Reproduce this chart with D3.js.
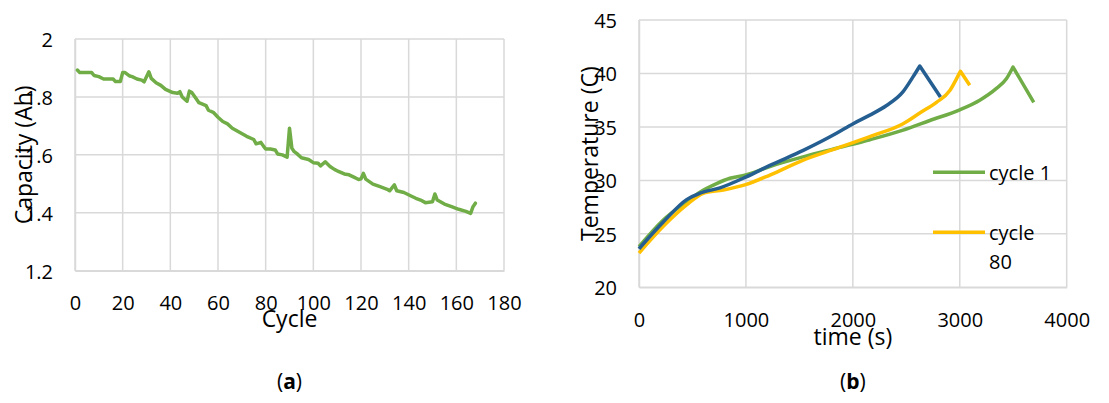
<!DOCTYPE html>
<html>
<head>
<meta charset="utf-8">
<script src="https://cdn.jsdelivr.net/npm/d3@7"></script>
<style>
  html, body { margin: 0; padding: 0; background: #fff; }
  svg { display: block; font-family: "Open Sans", sans-serif; }
</style>
</head>
<body>
<svg id="chart" width="1109" height="403"></svg>
<script>
// (a) capacity fade
const capCycles = [1,2,7,8,10,12,16,17,19,20,21,23,24,26,28,29,31,32,34,36,38,41,43,44,45,47,48,49,51,52,55,56,58,60,62,64,66,69,72,75,76,78,79,80,82,84,85,87,89,90,91,92,93,95,98,100,102,103,105,107,109,110,113,115,117,119,120,121,122,125,128,131,132,134,135,138,141,143,145,147,150,151,152,155,158,161,164,166,167,168];
const capValues = [1.893,1.884,1.884,1.874,1.870,1.862,1.862,1.853,1.853,1.884,1.884,1.872,1.870,1.862,1.858,1.852,1.887,1.864,1.849,1.840,1.826,1.815,1.813,1.818,1.800,1.785,1.820,1.815,1.792,1.780,1.770,1.754,1.747,1.730,1.715,1.707,1.692,1.678,1.664,1.653,1.638,1.643,1.631,1.620,1.620,1.617,1.603,1.600,1.592,1.692,1.623,1.611,1.605,1.590,1.584,1.573,1.571,1.562,1.576,1.560,1.549,1.545,1.534,1.531,1.523,1.515,1.517,1.536,1.516,1.499,1.490,1.481,1.476,1.496,1.476,1.470,1.458,1.450,1.444,1.435,1.438,1.465,1.444,1.430,1.421,1.412,1.405,1.398,1.421,1.433];

const capXTicks = [0,20,40,60,80,100,120,140,160,180];
const capYTicks = [1.2,1.4,1.6,1.8,2];

// (b) temperature during discharge
const c1Time = [0,227,445,570,726,850,997,1224,1536,1847,2159,2470,2720,3000,3187,3343,3436,3498,3692];
const c1Temp = [23.8,26.3,28.0,28.9,29.7,30.2,30.5,31.3,32.2,33.0,33.8,34.7,35.6,36.6,37.5,38.6,39.5,40.6,37.3];

const c80Time = [0,227,445,601,788,997,1224,1536,1847,2159,2470,2626,2782,2907,2969,3006,3093];
const c80Temp = [23.2,25.7,27.7,28.8,29.1,29.6,30.5,31.9,33.0,34.1,35.3,36.3,37.3,38.4,39.5,40.2,38.9];

const c3Time = [0,227,445,570,757,997,1224,1536,1847,2003,2159,2315,2470,2564,2626,2819];
const c3Temp = [23.6,26.1,28.2,28.8,29.3,30.3,31.4,32.8,34.4,35.3,36.1,37.0,38.3,39.7,40.7,37.8];

const tXTicks = [0,1000,2000,3000,4000];
const tYTicks = [20,25,30,35,40,45];

const GREEN = '#70AD47', YELLOW = '#FFC000', BLUE = '#255E91', GRID = '#d9d9d9';

const svg = d3.select('#chart');

function panel({x0, x1, y0, y1, xDomain, yDomain, xTicks, yTicks, xFmt, yFmt, xTitle, yTitle, yTitleX, xTitleY, xLabelY}){
  const x = d3.scaleLinear().domain(xDomain).range([x0, x1]);
  const y = d3.scaleLinear().domain(yDomain).range([y1, y0]);
  const g = svg.append('g');

  // gridlines
  g.append('g').selectAll('line').data(yTicks).join('line')
    .attr('x1', x0).attr('x2', x1)
    .attr('y1', d => y(d)).attr('y2', d => y(d))
    .attr('stroke', GRID).attr('stroke-width', 1.5);
  g.append('g').selectAll('line').data(xTicks).join('line')
    .attr('x1', d => x(d)).attr('x2', d => x(d))
    .attr('y1', y0).attr('y2', y1)
    .attr('stroke', GRID).attr('stroke-width', 1.5);

  // axes (labels only, lines drawn by grid)
  const ax = g.append('g').attr('transform', `translate(0,${y1})`)
    .call(d3.axisBottom(x).tickValues(xTicks).tickFormat(xFmt).tickSize(0).tickPadding(0));
  ax.select('.domain').attr('stroke', GRID).attr('stroke-width', 1.5);
  ax.selectAll('text').attr('font-size', 20).attr('fill', '#000')
    .attr('font-family', '"Open Sans", sans-serif')
    .attr('dy', null).attr('y', xLabelY).attr('dominant-baseline', 'central');

  const ay = g.append('g').attr('transform', `translate(${x0},0)`)
    .call(d3.axisLeft(y).tickValues(yTicks).tickFormat(yFmt).tickSize(0).tickPadding(22));
  ay.select('.domain').attr('stroke', GRID).attr('stroke-width', 1.5);
  ay.selectAll('text').attr('font-size', 20).attr('fill', '#000')
    .attr('font-family', '"Open Sans", sans-serif')
    .attr('dy', null).attr('dominant-baseline', 'central');

  // titles
  g.append('text').attr('x', (x0 + x1) / 2).attr('y', xTitleY)
    .attr('text-anchor', 'middle').attr('dominant-baseline', 'central')
    .attr('font-size', 23).text(xTitle);
  g.append('text')
    .attr('transform', `translate(${yTitleX},${(y0 + y1) / 2}) rotate(-90)`)
    .attr('text-anchor', 'middle').attr('dominant-baseline', 'central')
    .attr('font-size', 23).text(yTitle);

  return {x, y, g};
}

// ---- (a)
const A = panel({
  x0: 75, x1: 504, y0: 39, y1: 270.7,
  xDomain: [0, 180], yDomain: [1.2, 2],
  xTicks: capXTicks, yTicks: capYTicks,
  xFmt: d3.format('d'), yFmt: d => d === 2 ? '2' : d3.format('.1f')(d),
  xTitle: 'Cycle', yTitle: 'Capacity (Ah)', yTitleX: 23, xTitleY: 318, xLabelY: 32
});
const capData = capCycles.map((c, i) => [c, capValues[i]]);
A.g.append('path').datum(capData)
  .attr('fill', 'none').attr('stroke', GREEN).attr('stroke-width', 3.5)
  .attr('stroke-linejoin', 'round').attr('stroke-linecap', 'round')
  .attr('d', d3.line().x(d => A.x(d[0])).y(d => A.y(d[1])));

// ---- (b)
const B = panel({
  x0: 639, x1: 1066.7, y0: 20, y1: 287.3,
  xDomain: [0, 4000], yDomain: [20, 45],
  xTicks: tXTicks, yTicks: tYTicks,
  xFmt: d3.format('d'), yFmt: d3.format('d'),
  xTitle: 'time (s)', yTitle: 'Temperature (C)', yTitleX: 589, xTitleY: 336, xLabelY: 32
});
const smooth = d3.line().curve(d3.curveMonotoneX).x(d => B.x(d[0])).y(d => B.y(d[1]));
// smooth rise, sharp peak, straight fall after the peak
function tempPath(pts){
  const peak = d3.maxIndex(pts, d => d[1]);
  return smooth(pts.slice(0, peak + 1)) +
    pts.slice(peak + 1).map(d => `L${B.x(d[0])},${B.y(d[1])}`).join('');
}
const series = [
  {t: c1Time, v: c1Temp, color: GREEN},
  {t: c80Time, v: c80Temp, color: YELLOW},
  {t: c3Time, v: c3Temp, color: BLUE}
];
series.forEach(s => {
  B.g.append('path').datum(s.t.map((t, i) => [t, s.v[i]]))
    .attr('fill', 'none').attr('stroke', s.color).attr('stroke-width', 3.5)
    .attr('stroke-linejoin', 'round').attr('d', tempPath);
});

// legend
const legend = [
  {label: ['cycle 1'], color: GREEN, y: 172.3},
  {label: ['cycle', '80'], color: YELLOW, y: 232.3}
];
legend.forEach(l => {
  B.g.append('line').attr('x1', 933).attr('x2', 985).attr('y1', l.y).attr('y2', l.y)
    .attr('stroke', l.color).attr('stroke-width', 3.5);
  l.label.forEach((txt, i) => {
    B.g.append('text').attr('x', 989).attr('y', l.y + i * 29.5)
      .attr('dominant-baseline', 'central').attr('font-size', 20).text(txt);
  });
});

// sub-captions
[{x: 289.5, s: 'a'}, {x: 852.8, s: 'b'}].forEach(c => {
  const t = svg.append('text').attr('x', c.x).attr('y', 381)
    .attr('text-anchor', 'middle').attr('dominant-baseline', 'central')
    .attr('font-size', 21);
  t.append('tspan').text('(');
  t.append('tspan').attr('font-weight', 'bold').text(c.s);
  t.append('tspan').text(')');
});
</script>
</body>
</html>
